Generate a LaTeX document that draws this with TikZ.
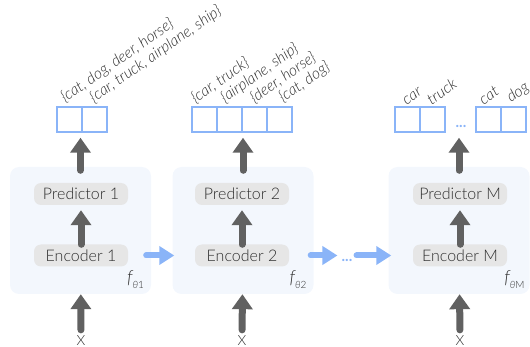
\documentclass[tikz,border=0pt]{standalone}
\usepackage{fontspec}
\setmainfont{Lato}[UprightFont={* Light}, ItalicFont={* Light Italic}, BoldFont={* Bold}]
\usetikzlibrary{arrows.meta,positioning}
\definecolor{blockfill}{HTML}{F3F7FD}
\definecolor{unitfill}{HTML}{E6E6E6}
\definecolor{cellblue}{HTML}{8AB4F8}
\definecolor{arrowgray}{HTML}{616161}
\definecolor{txtgray}{HTML}{2E2E2E}
\begin{document}
\begin{tikzpicture}[
    x=1pt, y=-1pt,
    every node/.style={
    font=\fontsize{16}{18}\selectfont, text=txtgray},
    block/.style={fill=blockfill, rounded corners=9pt, minimum width=141pt, minimum height=127pt, inner sep=0pt},
    unit/.style={fill=unitfill, rounded corners=7pt, minimum width=94pt, minimum height=22pt, inner sep=0pt},
    cell/.style={draw=cellblue, line width=1.5pt, minimum size=25pt, inner sep=0pt},
    lbl/.style={font=\fontsize{15.5}{17}\selectfont\itshape, rotate=35, anchor=south west, inner sep=0.5pt},
    flbl/.style={font=\fontsize{18}{18}\selectfont\itshape, anchor=south east, inner sep=0pt},
    inlbl/.style={font=\fontsize{14}{15}\selectfont, inner sep=0.5pt},
    dots/.style={text=cellblue, font=\fontsize{15}{15}\selectfont\bfseries, inner xsep=4pt, inner ysep=0pt},
    grayarrow/.style={draw=arrowgray, line width=7pt, line cap=round, -{Triangle[width=20pt,length=15pt]}},
    bluearrow/.style={draw=cellblue, line width=6pt, line cap=round, -{Triangle[width=18pt,length=15pt]}}]
    \def\tag#1#2#3{\node[lbl] (t-#1) at ([xshift=#2pt]#1.north) {#3};}
    \useasboundingbox (0,0) rectangle (530,347);

    % blocks
    \node[block] (blk1) at (80.5,230.5) {};
    \node[block] (blk2) at (243,230.5) {};
    \node[block] (blkM) at (459,230.5) {};

    \node[unit] (pred1) at (81,194) {Predictor 1};
    \node[unit] (enc1) at (81,255.5) {Encoder 1};
    \node[unit] (pred2) at (242,194) {Predictor 2};
    \node[unit] (enc2) at (242,255.5) {Encoder 2};
    \node[unit] (predM) at (460,194) {Predictor M};
    \node[unit] (encM) at (460,255.5) {Encoder M};

    \node[flbl] (f1) at ([xshift=-7pt,yshift=5pt]blk1.south east) {f\raisebox{-5pt}{\fontsize{10}{10}\selectfont θ\upshape 1}};
    \node[flbl] (f2) at ([xshift=-7pt,yshift=5pt]blk2.south east) {f\raisebox{-5pt}{\fontsize{10}{10}\selectfont θ\upshape 2}};
    \node[flbl] (fM) at ([xshift=-5pt,yshift=5pt]blkM.south east) {f\raisebox{-5pt}{\fontsize{10}{10}\selectfont θ\upshape M}};

    % inputs
    \node[inlbl] (x1) at (81,340.5) {X};
    \node[inlbl] (x2) at (242,340.5) {X};
    \node[inlbl] (xM) at (460,340.5) {X};

    % output cells
    \foreach \i/\cx in {1/69.5, 2/94.5}
        \node[cell] (c1-\i) at (\cx,119.5) {};
    \foreach \i/\cx in {1/204.5, 2/229.5, 3/254.5, 4/279.5}
        \node[cell] (c2-\i) at (\cx,119.5) {};
    \foreach \i/\cx in {1/407.5, 2/432.5, 3/488.5, 4/513.5}
        \node[cell] (cM-\i) at (\cx,119.5) {};
    \node[dots] (gapM) at (461,126) {...};

    \tag{c1-1}{-3}{\{cat, dog, deer, horse\}}
    \tag{c1-2}{1}{\{car, truck, airplane, ship\}}
    \tag{c2-1}{-8}{\{car, truck\}}
    \tag{c2-2}{-3}{\{airplane, ship\}}
    \tag{c2-3}{1}{\{deer, horse\}}
    \tag{c2-4}{5}{\{cat, dog\}}
    \tag{cM-1}{-1}{car}
    \tag{cM-2}{-1}{truck}
    \tag{cM-3}{-5}{cat}
    \tag{cM-4}{-1}{dog}

    % gray arrows
    \foreach \b in {1,2,M} {
        \draw[grayarrow, shorten <=5pt] (x\b) -- (blk\b);
        \draw[grayarrow, shorten >=5pt] (enc\b) -- (pred\b);
        \draw[grayarrow, shorten <=-3.5pt, shorten >=5pt] (blk\b.north) -- (blk\b.north |- c\b-1.south);
    }

    % chain
    \node[dots] (gap) at (347,260) {...};
    \draw[bluearrow, shorten <=-5pt, shorten >=-2pt] (blk1.east |- enc1) -- (blk2.west |- enc2);
    \draw[bluearrow, shorten <=-3pt] (blk2.east |- enc2) -- (gap.west |- enc2);
    \draw[bluearrow, shorten >=-3pt] (gap.east |- encM) -- (blkM.west |- encM);
\end{tikzpicture}
\end{document}
